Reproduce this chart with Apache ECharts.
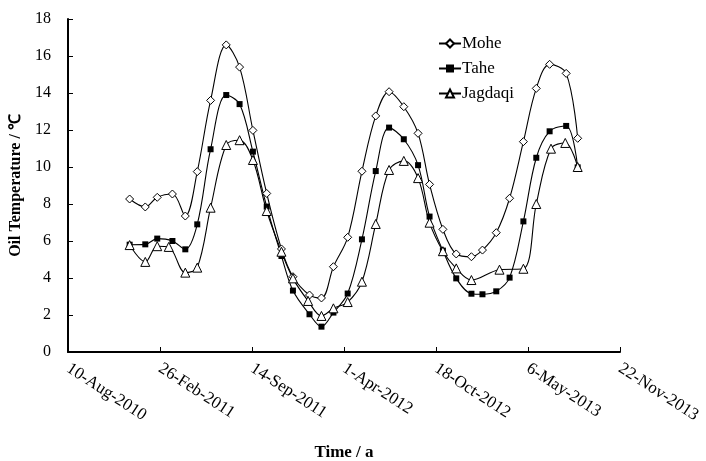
<!DOCTYPE html>
<html>
<head>
<meta charset="utf-8">
<script src="https://cdn.jsdelivr.net/npm/echarts@6/dist/echarts.min.js"></script>
<style>
  html, body { margin: 0; padding: 0; background: #fff; }
  #chart { width: 706px; height: 461px; }
</style>
</head>
<body>
<div id="chart"></div>
<script>
// sampling dates (Mohe and Tahe share them)
const dates = [
  '2010-12-22', '2011-01-25', '2011-02-20', '2011-03-25', '2011-04-22', '2011-05-18',
  '2011-06-16', '2011-07-20', '2011-08-18', '2011-09-16', '2011-10-16', '2011-11-17',
  '2011-12-12', '2012-01-17', '2012-02-12', '2012-03-09', '2012-04-09', '2012-05-10',
  '2012-06-09', '2012-07-08', '2012-08-09', '2012-09-09', '2012-10-04', '2012-11-02',
  '2012-12-01', '2013-01-03', '2013-01-27', '2013-02-26', '2013-03-27', '2013-04-26',
  '2013-05-24', '2013-06-22', '2013-07-28', '2013-08-22'
];
const mohe = [
  8.27, 7.84, 8.36, 8.54, 7.35, 9.75, 13.6, 16.6, 15.4, 11.98, 8.57, 5.57,
  4.07, 3.08, 2.92, 4.61, 6.2, 9.77, 12.76, 14.07, 13.26, 11.82, 9.06, 6.63,
  5.3, 5.15, 5.51, 6.45, 8.31, 11.37, 14.25, 15.55, 15.06, 11.55
];
const tahe = [
  5.8, 5.82, 6.13, 6.0, 5.55, 6.9, 10.96, 13.89, 13.4, 10.83, 7.86, 5.19,
  3.32, 2.04, 1.37, 2.13, 3.16, 6.09, 9.78, 12.13, 11.5, 10.1, 7.32, 5.48,
  3.98, 3.15, 3.12, 3.28, 4.02, 7.06, 10.5, 11.93, 12.22, 9.98
];
// Jagdaqi was sampled on slightly different days
const jagDates = [
  '2010-12-22', '2011-01-25', '2011-02-20', '2011-03-17', '2011-04-22', '2011-05-18',
  '2011-06-16', '2011-07-20', '2011-08-18', '2011-09-16', '2011-10-16', '2011-11-17',
  '2011-12-12', '2012-01-14', '2012-02-12', '2012-03-09', '2012-04-09', '2012-05-10',
  '2012-06-09', '2012-07-08', '2012-08-09', '2012-09-09', '2012-10-04', '2012-11-02',
  '2012-12-01', '2013-01-03', '2013-03-05', '2013-04-26', '2013-05-24', '2013-06-25',
  '2013-07-26', '2013-08-22'
];
const jagdaqi = [
  5.78, 4.87, 5.72, 5.68, 4.29, 4.56, 7.8, 11.19, 11.45, 10.38, 7.62, 5.42,
  3.98, 2.76, 1.95, 2.36, 2.7, 3.8, 6.92, 9.84, 10.33, 9.4, 6.99, 5.45,
  4.52, 3.89, 4.45, 4.5, 8.0, 10.99, 11.3, 10.0
];
const xTickLabels = ['10-Aug-2010', '26-Feb-2011', '14-Sep-2011', '1-Apr-2012', '18-Oct-2012', '6-May-2013', '22-Nov-2013'];

// excel style day number
function serial(s) {
  const [y, m, d] = s.split('-').map(Number);
  return Math.round((Date.UTC(y, m - 1, d) - Date.UTC(1899, 11, 30)) / 86400000);
}

const font = 'Liberation Serif';
const lineStyle = { color: '#000', width: 1.1 };

const chart = echarts.init(document.getElementById('chart'));
chart.setOption({
  animation: false,
  backgroundColor: '#fff',
  grid: { left: 68, right: 86, top: 19, bottom: 109, outerBoundsMode: 'none' },
  legend: {
    orient: 'vertical',
    left: 433,
    top: 30,
    itemWidth: 22,
    itemHeight: 10,
    itemGap: 8,
    textStyle: { fontFamily: font, fontSize: 17, color: '#000', padding: [0, 0, 0, -4] },
    data: ['Mohe', 'Tahe', 'Jagdaqi']
  },
  xAxis: {
    type: 'value',
    min: 40400,
    max: 41600,
    interval: 200,
    name: 'Time / a',
    nameLocation: 'middle',
    nameGap: 92,
    nameTextStyle: { fontFamily: font, fontSize: 17, fontWeight: 'bold', color: '#000' },
    axisLine: { lineStyle: { color: '#000', width: 2 } },
    axisTick: { inside: true, length: 5, lineStyle: { color: '#000' } },
    splitLine: { show: false },
    axisLabel: {
      rotate: -33,
      margin: 15,
      fontFamily: font,
      fontSize: 17,
      color: '#000',
      formatter: v => xTickLabels[Math.round((v - 40400) / 200)]
    }
  },
  yAxis: {
    type: 'value',
    min: 0,
    max: 18,
    interval: 2,
    name: 'Oil Temperature / ℃',
    nameLocation: 'middle',
    nameGap: 40,
    nameTextStyle: { fontFamily: font, fontSize: 16, fontWeight: 'bold', color: '#000' },
    axisLine: { show: true, lineStyle: { color: '#000', width: 2 } },
    axisTick: { show: true, inside: true, length: 5, lineStyle: { color: '#000' } },
    splitLine: { show: false },
    axisLabel: { margin: 17, fontFamily: font, fontSize: 16, color: '#000' }
  },
  series: [
    {
      name: 'Mohe',
      type: 'line',
      smooth: 0.35,
      data: dates.map((d, i) => [serial(d), mohe[i]]),
      symbol: 'diamond',
      symbolSize: 8,
      lineStyle: lineStyle,
      itemStyle: { color: '#fff', borderColor: '#000', borderWidth: 1 }
    },
    {
      name: 'Tahe',
      type: 'line',
      smooth: 0.35,
      data: dates.map((d, i) => [serial(d), tahe[i]]),
      symbol: 'rect',
      symbolSize: 6,
      lineStyle: lineStyle,
      itemStyle: { color: '#000' }
    },
    {
      name: 'Jagdaqi',
      type: 'line',
      smooth: 0.35,
      data: jagDates.map((d, i) => [serial(d), jagdaqi[i]]),
      symbol: 'triangle',
      symbolSize: 9,
      lineStyle: lineStyle,
      itemStyle: { color: '#fff', borderColor: '#000', borderWidth: 1 }
    }
  ]
});
</script>
</body>
</html>
